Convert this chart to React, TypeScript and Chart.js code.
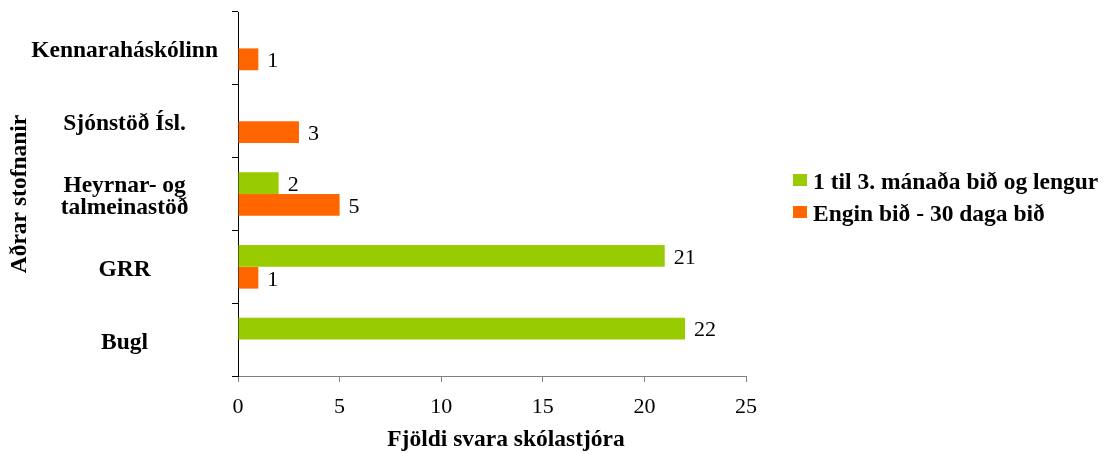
import React, { useEffect, useRef } from "react";
import { Chart, registerables } from "chart.js";

Chart.register(...registerables);

const categories: (string | string[])[] = [
  "Kennaraháskólinn",
  "Sjónstöð Ísl.",
  ["Heyrnar- og", "talmeinastöð"],
  "GRR",
  "Bugl",
];
const seriesLongLabel = "1 til 3. mánaða bið og lengur";
const seriesShortLabel = "Engin bið - 30 daga bið";
const longWait: (number | null)[] = [null, null, 2, 21, 22];
const shortWait: (number | null)[] = [1, 3, 5, 1, null];
const xMin = 0;
const xMax = 25;
const xStep = 5;
const xTitle = "Fjöldi svara skólastjóra";
const yTitle = "Aðrar stofnanir";

const GREEN = "#99CC00";
const ORANGE = "#FF6600";
const FAMILY = '"Liberation Serif", "Times New Roman", Times, serif';

const valueLabels = {
  id: "valueLabels",
  afterDatasetsDraw(chart: any) {
    const { ctx } = chart;
    ctx.save();
    ctx.font = `22px ${FAMILY}`;
    ctx.fillStyle = "#000";
    ctx.textAlign = "left";
    ctx.textBaseline = "middle";
    chart.data.datasets.forEach((ds: any, i: number) => {
      const meta = chart.getDatasetMeta(i);
      meta.data.forEach((el: any, j: number) => {
        const v = ds.data[j];
        if (v == null) return;
        ctx.fillText(String(v), el.x + 9, el.y + 2);
      });
    });
    ctx.restore();
  },
};

const xAxisTitle = {
  id: "xAxisTitle",
  afterDraw(chart: any) {
    const { ctx, chartArea } = chart;
    ctx.save();
    ctx.font = `bold 23.5px ${FAMILY}`;
    ctx.fillStyle = "#000";
    ctx.textAlign = "center";
    ctx.textBaseline = "middle";
    ctx.fillText(xTitle, (chartArea.left + chartArea.right) / 2 + 14, chartArea.bottom + 64);
    ctx.restore();
  },
};

const sideLegend = {
  id: "sideLegend",
  afterDraw(chart: any) {
    const { ctx, chartArea } = chart;
    const x = chartArea.right + 47;
    const cy = (chartArea.top + chartArea.bottom) / 2 + 5;
    ctx.save();
    ctx.font = `bold 23.5px ${FAMILY}`;
    ctx.textAlign = "left";
    ctx.textBaseline = "middle";
    chart.data.datasets.forEach((ds: any, i: number) => {
      const y = cy + (i - 0.5) * 32;
      ctx.fillStyle = ds.backgroundColor;
      ctx.fillRect(x, y - 9, 14, 12);
      ctx.fillStyle = "#000";
      ctx.fillText(ds.label, x + 20, y);
    });
    ctx.restore();
  },
};

export default function App() {
  const ref = useRef<HTMLCanvasElement | null>(null);

  useEffect(() => {
    document.body.style.margin = "0";
    const canvas = ref.current;
    if (!canvas) return;
    const chart = new Chart(canvas, {
      type: "bar",
      data: {
        labels: categories as any,
        datasets: [
          {
            label: seriesLongLabel,
            data: longWait as any,
            backgroundColor: GREEN,
            borderWidth: 0,
            barPercentage: 1,
            categoryPercentage: 0.6,
          },
          {
            label: seriesShortLabel,
            data: shortWait as any,
            backgroundColor: ORANGE,
            borderWidth: 0,
            barPercentage: 1,
            categoryPercentage: 0.6,
          },
        ],
      },
      options: {
        indexAxis: "y",
        animation: false,
        responsive: false,
        devicePixelRatio: 1,
        layout: { padding: { top: 12, right: 366, left: 0, bottom: 0 } },
        plugins: {
          legend: { display: false },
          tooltip: { enabled: false },
          title: { display: false },
        },
        scales: {
          x: {
            min: xMin,
            max: xMax,
            ticks: {
              stepSize: xStep,
              color: "#000",
              padding: 12,
              font: { family: FAMILY, size: 22 },
            },
            grid: {
              drawOnChartArea: false,
              drawTicks: true,
              tickLength: 6,
              color: "#808080",
            },
            border: { display: true, color: "#808080", width: 1 },
            title: { display: false },
            afterFit(scale: any) {
              scale.height = 78;
              scale.paddingLeft = 0;
              scale.paddingRight = 0;
            },
          } as any,
          y: {
            ticks: {
              color: "#000",
              padding: 14,
              labelOffset: 3,
              crossAlign: "center",
              font: { family: FAMILY, size: 23.5, weight: "bold", lineHeight: 0.95 },
            },
            grid: {
              offset: true,
              drawOnChartArea: false,
              drawTicks: true,
              tickLength: 6,
              color: "#000",
            },
            border: { display: true, color: "#000", width: 1 },
            title: {
              display: true,
              text: yTitle,
              color: "#000",
              font: { family: FAMILY, size: 23.5, weight: "bold" },
              padding: { top: 6, bottom: 0 },
            },
            afterFit(scale: any) {
              scale.width = 238;
              scale.paddingTop = 0;
              scale.paddingBottom = 0;
            },
          } as any,
        },
      },
      plugins: [valueLabels, xAxisTitle, sideLegend],
    });
    return () => chart.destroy();
  }, []);

  return (
    <div style={{ width: 1112, height: 454, background: "#fff" }}>
      <canvas ref={ref} width={1112} height={454} style={{ display: "block" }} />
    </div>
  );
}
